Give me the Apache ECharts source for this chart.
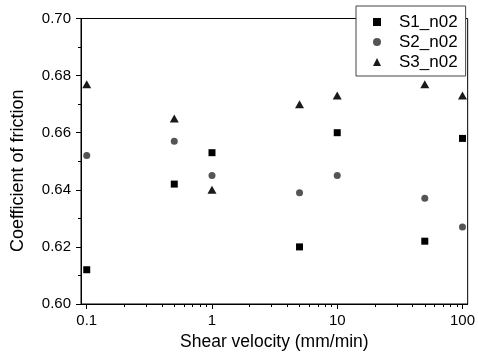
<!DOCTYPE html>
<html>
<head>
<meta charset="utf-8">
<script src="https://cdn.jsdelivr.net/npm/echarts@6/dist/echarts.min.js"></script>
<style>
  html, body { margin: 0; padding: 0; background: #fff; }
  #chart { width: 478px; height: 356px; }
</style>
</head>
<body>
<div id="chart"></div>
<script>
// shear velocity (mm/min)
var velocities = [0.1, 0.5, 1, 5, 10, 50, 100];
var s1 = [0.612, 0.642, 0.653, 0.620, 0.660, 0.622, 0.658];
var s2 = [0.652, 0.657, 0.645, 0.639, 0.645, 0.637, 0.627];
var s3 = [0.677, 0.665, 0.640, 0.670, 0.673, 0.677, 0.673];
var seriesNames = ['S1_n02', 'S2_n02', 'S3_n02'];
var xMajor = [0.1, 1, 10, 100];
var xMinor = [0.2, 0.3, 0.4, 0.5, 0.6, 0.7, 0.8, 0.9,
              2, 3, 4, 5, 6, 7, 8, 9,
              20, 30, 40, 50, 60, 70, 80, 90];

function pairs(ys) {
  var out = [];
  for (var i = 0; i < velocities.length; i++) {
    out.push([velocities[i], ys[i]]);
  }
  return out;
}

var font = 'Liberation Sans, Arial, sans-serif';
var chart = echarts.init(document.getElementById('chart'));

var option = {
  animation: false,
  textStyle: { fontFamily: font },
  grid: {
    left: 81, right: 9, top: 18.5, bottom: 51,
    show: true, borderColor: '#000', borderWidth: 1,
    backgroundColor: 'transparent'
  },
  legend: {
    orient: 'vertical',
    left: 356, top: 6,
    width: 111,
    padding: [6, 8, 4, 17],
    itemGap: 0,
    itemWidth: 8, itemHeight: 8,
    backgroundColor: '#fff',
    borderColor: '#444', borderWidth: 1,
    borderRadius: 0,
    textStyle: { fontSize: 17, color: '#000', fontFamily: font, padding: [0, 0, 0, 13], lineHeight: 20 },
    data: [
      { name: seriesNames[0], icon: 'rect', itemStyle: { color: '#000' } },
      { name: seriesNames[1], icon: 'circle', itemStyle: { color: '#555' } },
      { name: seriesNames[2], icon: 'triangle', itemStyle: { color: '#1a1a1a' } }
    ]
  },
  xAxis: [{
    type: 'log',
    logBase: 10,
    min: 0.09, max: 110,
    name: 'Shear velocity (mm/min)',
    nameLocation: 'middle',
    nameGap: 29,
    nameTextStyle: { fontSize: 17.5, color: '#000', fontFamily: font },
    axisLine: { lineStyle: { color: '#000', width: 1 } },
    axisTick: { show: true, length: 5, inside: false, customValues: xMajor, lineStyle: { color: '#000' } },
    axisLabel: {
      customValues: xMajor, fontSize: 15, color: '#000', margin: 9,
      formatter: function (v) { return String(v); }
    },
    splitLine: { show: false },
    minorTick: { show: false }
  }, {
    type: 'log',
    logBase: 10,
    min: 0.09, max: 110,
    position: 'bottom',
    axisLine: { show: true, lineStyle: { color: '#000', opacity: 0 } },
    axisTick: { show: true, length: 3, inside: false, customValues: xMinor, lineStyle: { color: '#000' } },
    axisLabel: { show: false },
    splitLine: { show: false }
  }],
  yAxis: {
    type: 'value',
    min: 0.60, max: 0.70, interval: 0.02,
    name: 'Coefficient of friction',
    nameLocation: 'middle',
    nameGap: 54,
    nameTextStyle: { fontSize: 18, color: '#000', fontFamily: font, padding: [0, 19, 0, 0] },
    axisLine: { show: true, lineStyle: { color: '#000', width: 1 } },
    axisTick: { show: true, length: 5, inside: false, lineStyle: { color: '#000' } },
    minorTick: { show: true, splitNumber: 2, length: 3, lineStyle: { color: '#000' } },
    axisLabel: {
      fontSize: 15, color: '#000', margin: 10,
      formatter: function (v) { return v.toFixed(2); }
    },
    splitLine: { show: false }
  },
  series: [
    { name: seriesNames[0], type: 'scatter', symbol: 'rect', symbolSize: 7,
      itemStyle: { color: '#000', opacity: 1 }, data: pairs(s1) },
    { name: seriesNames[1], type: 'scatter', symbol: 'circle', symbolSize: 7,
      itemStyle: { color: '#555', opacity: 1 }, data: pairs(s2) },
    { name: seriesNames[2], type: 'scatter', symbol: 'triangle', symbolSize: [9, 8],
      itemStyle: { color: '#1a1a1a', opacity: 1 }, data: pairs(s3) }
  ]
};

chart.setOption(option);
</script>
</body>
</html>
